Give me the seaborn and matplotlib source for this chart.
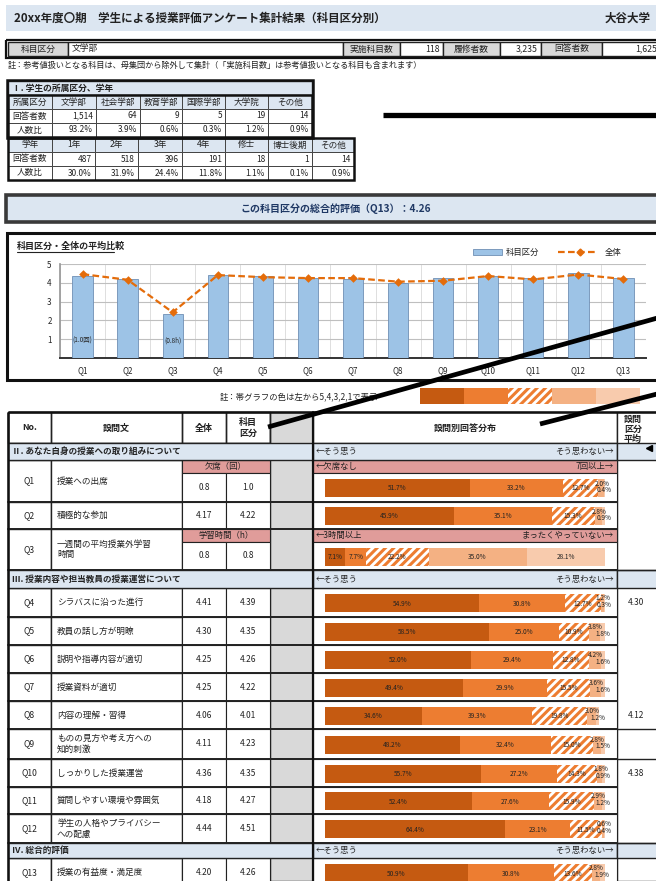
import numpy as np
import pandas as pd
import matplotlib
matplotlib.use("Agg")
import matplotlib.pyplot as plt
from matplotlib.patches import Rectangle
import seaborn as sns

sns.set_theme(style="white")
plt.rcParams['font.family'] = ['Noto Sans CJK JP', 'DejaVu Sans']
plt.rcParams['hatch.linewidth'] = 2.2

W, H = 656, 881

# ---- data ----
info_labels = ['科目区分', '実施科目数', '履修者数', '回答者数']
info_values = ['文学部', '118', '3,235', '1,625']

faculty_cols = ['文学部', '社会学部', '教育学部', '国際学部', '大学院', 'その他']
faculty_counts = ['1,514', '64', '9', '5', '19', '14']
faculty_ratio = ['93.2%', '3.9%', '0.6%', '0.3%', '1.2%', '0.9%']
grade_cols = ['1年', '2年', '3年', '4年', '修士', '博士後期', 'その他']
grade_counts = ['487', '518', '396', '191', '18', '1', '14']
grade_ratio = ['30.0%', '31.9%', '24.4%', '11.8%', '1.1%', '0.1%', '0.9%']

questions = ['Q1', 'Q2', 'Q3', 'Q4', 'Q5', 'Q6', 'Q7', 'Q8', 'Q9', 'Q10', 'Q11', 'Q12', 'Q13']
subject_score = [4.35, 4.22, 2.33, 4.39, 4.35, 4.26, 4.22, 4.01, 4.23, 4.35, 4.27, 4.51, 4.26]
overall_score = [4.46, 4.16, 2.43, 4.41, 4.30, 4.25, 4.25, 4.06, 4.11, 4.36, 4.18, 4.44, 4.20]

q_text = ['授業への出席', '積極的な参加', '一週間の平均授業外学習\n時間', 'シラバスに沿った進行',
          '教員の話し方が明瞭', '説明や指導内容が適切', '授業資料が適切', '内容の理解・習得',
          'ものの見方や考え方への\n知的刺激', 'しっかりした授業運営', '質問しやすい環境や雰囲気',
          '学生の人格やプライバシー\nへの配慮', '授業の有益度・満足度']
overall_col = ['0.8', '4.17', '0.8', '4.41', '4.30', '4.25', '4.25', '4.06', '4.11', '4.36', '4.18', '4.44', '4.20']
subject_col = ['1.0', '4.22', '0.8', '4.39', '4.35', '4.26', '4.22', '4.01', '4.23', '4.35', '4.27', '4.51', '4.26']

dist = [
    [51.7, 33.2, 12.7, 2.0, 0.4],
    [45.9, 35.1, 15.3, 2.8, 0.9],
    [7.1, 7.7, 22.2, 35.0, 28.1],
    [54.9, 30.8, 12.7, 1.2, 0.3],
    [58.5, 25.0, 10.9, 3.8, 1.8],
    [52.0, 29.4, 12.8, 4.2, 1.6],
    [49.4, 29.9, 15.5, 3.6, 1.6],
    [34.6, 39.3, 19.8, 3.0, 1.2],
    [48.2, 32.4, 15.0, 2.8, 1.5],
    [55.7, 27.2, 14.3, 1.8, 0.9],
    [52.4, 27.6, 15.9, 2.9, 1.2],
    [64.4, 23.1, 11.5, 0.6, 0.4],
    [50.9, 30.8, 13.6, 2.8, 1.9],
]
group_avg = {'Q4': '4.30', 'Q8': '4.12', 'Q10': '4.38'}

# ---- colours ----
BLUE_BG = '#DCE6F1'
PINK = '#E09C9A'
GRAY = '#D9D9D9'
seg_colors = ['#C55A11', '#ED7D31', 'white', '#F4B183', '#F8CBAD']
ORANGE = '#ED7D31'

fig = plt.figure(figsize=(W / 100, H / 100), dpi=100)
doc = fig.add_axes([0, 0, 1, 1])
doc.set_xlim(0, W)
doc.set_ylim(H, 0)
doc.axis('off')


def box(x0, y0, x1, y1, fc='none', ec='#333333', lw=0.8, z=1, **kw):
    doc.add_patch(Rectangle((x0, y0), x1 - x0, y1 - y0, facecolor=fc, edgecolor=ec, linewidth=lw, zorder=z, **kw))


def txt(x, y, s, size=6.3, ha='left', va='center', **kw):
    doc.text(x, y, s, fontsize=size, ha=ha, va=va, color=kw.pop('color', '#222222'), **kw)


def fax(x0, y0, x1, y1):
    return fig.add_axes([x0 / W, 1 - y1 / H, (x1 - x0) / W, (y1 - y0) / H])


# ---- header ----
box(6, 5, W + 5, 31, fc=BLUE_BG, ec='none')
txt(14, 18, '20xx年度〇期　学生による授業評価アンケート集計結果（科目区分別）', size=8.3, weight='bold')
txt(651, 18, '大谷大学', size=8.3, weight='bold', ha='right')

info_x = [(8, 68), (68, 343), (343, 400), (400, 443), (443, 500), (500, 541), (541, 602), (602, 660)]
for i, (x0, x1) in enumerate(info_x):
    lab = i % 2 == 0
    box(x0, 42, x1, 56, fc=GRAY if lab else 'white', ec='#222222', lw=1.0)
    if lab:
        txt((x0 + x1) / 2, 49, info_labels[i // 2], size=6.3, ha='center')
    elif i == 1:
        txt(x0 + 4, 49, info_values[0], size=6.3)
    else:
        txt(x1 - 3, 49, info_values[i // 2], size=6.3, ha='right')
box(6, 40, W + 5, 58, ec='#111111', lw=1.6)
txt(8, 65, '註：参考値扱いとなる科目は、母集団から除外して集計（「実施科目数」は参考値扱いとなる科目も含まれます）', size=5.9)

# ---- table I ----
col1 = [8, 52, 96, 140, 182, 225, 268, 312]
col2 = [8, 52, 95, 138, 182, 225, 268, 312, 354]
box(8, 81, 312, 95, fc=BLUE_BG, ec='#222222', lw=1.0)
txt(12, 88, 'Ⅰ. 学生の所属区分、学年', size=6.3, weight='bold')
rows1 = [(95, 109), (109, 123), (123, 137)]
rows2 = [(138, 152), (152, 166), (166, 180)]
t1 = [['所属区分'] + faculty_cols, ['回答者数'] + faculty_counts, ['人数比'] + faculty_ratio]
t2 = [['学年'] + grade_cols, ['回答者数'] + grade_counts, ['人数比'] + grade_ratio]
for cols, rows, tab in [(col1, rows1, t1), (col2, rows2, t2)]:
    for r, (y0, y1) in enumerate(rows):
        for c in range(len(cols) - 1):
            fc = BLUE_BG if r == 0 else 'white'
            box(cols[c], y0, cols[c + 1], y1, fc=fc, ec='#444444', lw=0.7)
            s = tab[r][c]
            if r == 0 or c == 0:
                txt((cols[c] + cols[c + 1]) / 2, (y0 + y1) / 2, s, size=6.2, ha='center')
            else:
                txt(cols[c + 1] - 3, (y0 + y1) / 2, s, size=6.0, ha='right')
    box(cols[0], rows[0][0], cols[-1], rows[-1][1], ec='#111111', lw=1.8, z=2)
box(7, 80, 313, 138, ec='#111111', lw=1.8, z=2)

# ---- overall evaluation banner ----
box(6, 195, W + 5, 222, fc=BLUE_BG, ec='#3A3A3A', lw=2.6)
txt(336, 209, 'この科目区分の総合的評価（Q13）：4.26', size=7.2, ha='center', weight='bold', color='#1F3864')

# ---- average comparison chart ----
box(7, 233, W + 5, 380, fc='white', ec='#111111', lw=2.2)
txt(17, 246, '科目区分・全体の平均比較', size=6.5, weight='bold')
doc.plot([17, 114], [251.5, 251.5], color='#222222', lw=0.8)
box(473, 249, 502, 255, fc='#9DC3E6', ec='#6F8FB5', lw=0.6)
txt(506, 252, '科目区分', size=6.0)
doc.plot([558, 598], [252, 252], color='#E46C0A', lw=1.6, ls=(0, (3, 1.5)))
doc.plot([580], [252], marker='D', color='#E46C0A', ms=3.5)
txt(605, 252, '全体', size=6.0)

chart = fax(60, 264, 646, 358)
df_chart = pd.DataFrame({'q': questions, 'subject': subject_score, 'overall': overall_score})
sns.barplot(data=df_chart, x='q', y='subject', color='#9DC3E6', edgecolor='#6F8FB5',
            linewidth=0.6, width=0.45, saturation=1, ax=chart, zorder=3)
sns.pointplot(data=df_chart, x='q', y='overall', color='#E46C0A', markers='D',
              linestyles=(0, (3, 1.5)), markersize=3.2, linewidth=1.6, ax=chart, zorder=5)
chart.set_ylim(0, 5)
chart.set_yticks([1, 2, 3, 4, 5])
chart.set_xlabel('')
chart.set_ylabel('')
chart.tick_params(axis='both', labelsize=5.8, length=0, pad=6)
chart.yaxis.grid(True, color='#BFBFBF', lw=0.8, zorder=0)
for k in range(len(questions) + 1):
    chart.axvline(k - 0.5, color='#D9D9D9', lw=0.6, zorder=0)
for sp in ['top', 'right']:
    chart.spines[sp].set_visible(False)
chart.spines['left'].set_color('#999999')
chart.spines['bottom'].set_color('#333333')
chart.spines['bottom'].set_linewidth(1.4)
chart.set_facecolor('none')
chart.text(0, 0.95, '(1.0回)', fontsize=4.6, ha='center', va='center', zorder=6)
chart.text(2, 0.95, '(0.8h)', fontsize=4.6, ha='center', va='center', zorder=6)

txt(220, 397, '註：帯グラフの色は左から5,4,3,2,1で表示', size=6.0)
leg = fax(420, 388, 640, 404)
for i, c in enumerate(seg_colors):
    leg.barh(0, 1, left=i, height=1, color=c, edgecolor=ORANGE if i == 2 else c,
             hatch='////' if i == 2 else None, linewidth=0)
leg.set_xlim(0, 5)
leg.set_ylim(-0.5, 0.5)
leg.axis('off')

# ---- main table ----
cx = [8, 51, 182, 226, 270, 313, 617, 660]
box(8, 412, 270, 443, fc='white', ec='#222222', lw=1.0)
box(270, 412, 313, H, fc=GRAY, ec='#222222', lw=1.0)
box(313, 412, 617, 443, fc='white', ec='#222222', lw=1.0)
box(617, 412, 660, H, fc='white', ec='#222222', lw=1.0)
for c in range(4):
    box(cx[c], 412, cx[c + 1], 443, ec='#222222', lw=1.0)
txt(30, 428, 'No.', size=6.3, ha='center', weight='bold')
txt(116, 428, '設問文', size=6.5, ha='center', weight='bold')
txt(204, 428, '全体', size=6.5, ha='center', weight='bold')
txt(248, 428, '科目\n区分', size=6.5, ha='center', weight='bold', linespacing=1.2)
txt(465, 428, '設問別回答分布', size=6.5, ha='center', weight='bold')

sections = [(443, 460, 'Ⅱ. あなた自身の授業への取り組みについて'),
            (570, 588, 'Ⅲ. 授業内容や担当教員の授業運営について'),
            (843, 858, 'Ⅳ. 総合的評価')]
for y0, y1, s in sections:
    box(8, y0, 313, y1, fc=BLUE_BG, ec='#222222', lw=1.0, z=2)
    box(313, y0, 617, y1, fc=BLUE_BG, ec='#222222', lw=1.0, z=2)
    box(617, y0, 660, y1, fc=BLUE_BG, ec='#222222', lw=1.0, z=2)
    txt(12, (y0 + y1) / 2, s, size=6.2, weight='bold', zorder=3)
    txt(316, (y0 + y1) / 2, '←そう思う', size=6.0, zorder=3)
    txt(614, (y0 + y1) / 2, 'そう思わない→', size=6.0, ha='right', zorder=3)
txt(624, 415, '設問\n区分\n平均', size=6.5, va='top', weight='bold', linespacing=1.15, zorder=4)

# question blocks: (block top, pink header bottom or None, block bottom)
blocks = [(460, 473, 502), (502, None, 529), (529, 542, 570), (588, None, 617), (617, None, 645),
          (645, None, 673), (673, None, 701), (701, None, 729), (729, None, 759), (759, None, 787),
          (787, None, 814), (814, None, 843), (858, None, 887)]
pink_text = {0: ('欠席（回）', '←欠席なし', '7回以上→'),
             2: ('学習時間（h）', '←3時間以上', 'まったくやっていない→')}

for i, (top, ph, bot) in enumerate(blocks):
    box(8, top, 51, bot, fc='white', ec='#222222', lw=1.0)
    box(51, top, 182, bot, fc='white', ec='#222222', lw=1.0)
    data_top = ph if ph else top
    if ph:
        box(182, top, 270, ph, fc=PINK, ec='#222222', lw=0.8)
        box(313, top, 617, ph, fc=PINK, ec='#222222', lw=0.8)
        a, b, c = pink_text[i]
        txt(226, (top + ph) / 2, a, size=6.0, ha='center')
        txt(316, (top + ph) / 2, b, size=6.0)
        txt(614, (top + ph) / 2, c, size=6.0, ha='right')
    box(182, data_top, 226, bot, fc='white', ec='#222222', lw=0.8)
    box(226, data_top, 270, bot, fc='white', ec='#222222', lw=0.8)
    box(313, data_top, 617, bot, fc='white', ec='#222222', lw=0.8)
    doc.plot([8, 617], [bot, bot], color='#222222', lw=1.4, zorder=2)
    ym = (top + bot) / 2
    yd = (data_top + bot) / 2
    txt(29.5, ym, questions[i], size=6.2, ha='center')
    txt(57, ym, q_text[i], size=6.2, linespacing=1.25)
    txt(204, yd, overall_col[i], size=6.0, ha='center')
    txt(248, yd, subject_col[i], size=6.0, ha='center')
    if questions[i] in group_avg:
        txt(636, yd, group_avg[questions[i]], size=6.0, ha='center')

# right column group separators
for yb in [570, 729, 759, 843]:
    doc.plot([617, 660], [yb, yb], color='#222222', lw=1.0, zorder=2)

box(8, 412, 660, H + 5, ec='#111111', lw=1.8, z=3)
doc.plot([313, 313], [412, H], color='#111111', lw=1.6, zorder=3)

# stacked distribution bars
dax = fax(325, 412, 605, H)
dax.set_xlim(0, 100)
dax.set_ylim(H, 412)
dax.axis('off')
dax.patch.set_alpha(0)
for i, (top, ph, bot) in enumerate(blocks):
    data_top = ph if ph else top
    yc = (data_top + bot) / 2 + 0.5
    vals = dist[i]
    left = 0
    for k, v in enumerate(vals):
        dax.barh(yc, v, left=left, height=18, color=seg_colors[k],
                 edgecolor=ORANGE if k == 2 else seg_colors[k],
                 hatch='////' if k == 2 else None, linewidth=0, zorder=2)
        cxk = left + v / 2
        lab = f'{v:.1f}%'
        if i == 2 or k < 3:
            dax.text(cxk, yc + 0.5, lab, fontsize=4.7, ha='center', va='center', color='#222222', zorder=4)
        elif k == 3:
            dax.text(cxk + 0.3, yc - 4.5, lab, fontsize=4.7, ha='center', va='center', color='#222222', zorder=4)
        else:
            dax.text(cxk, yc + 2, lab, fontsize=4.7, ha='center', va='center', color='#222222', zorder=4)
        left += v

# annotation strokes drawn over the scan (own top layer)
top_layer = fig.add_axes([0, 0, 1, 1])
top_layer.set_xlim(0, W)
top_layer.set_ylim(H, 0)
top_layer.axis('off')
top_layer.patch.set_alpha(0)
top_layer.plot([383, W + 5], [115, 115], color='black', lw=3.8, solid_capstyle='butt')
top_layer.plot([268, W + 5], [427, 317], color='black', lw=3.4, solid_capstyle='butt')
top_layer.plot([540, W + 5], [424, 393], color='black', lw=3.4, solid_capstyle='butt')
top_layer.plot([649], [448], marker='<', color='black', ms=4)

fig.savefig('out.png', dpi=100)
